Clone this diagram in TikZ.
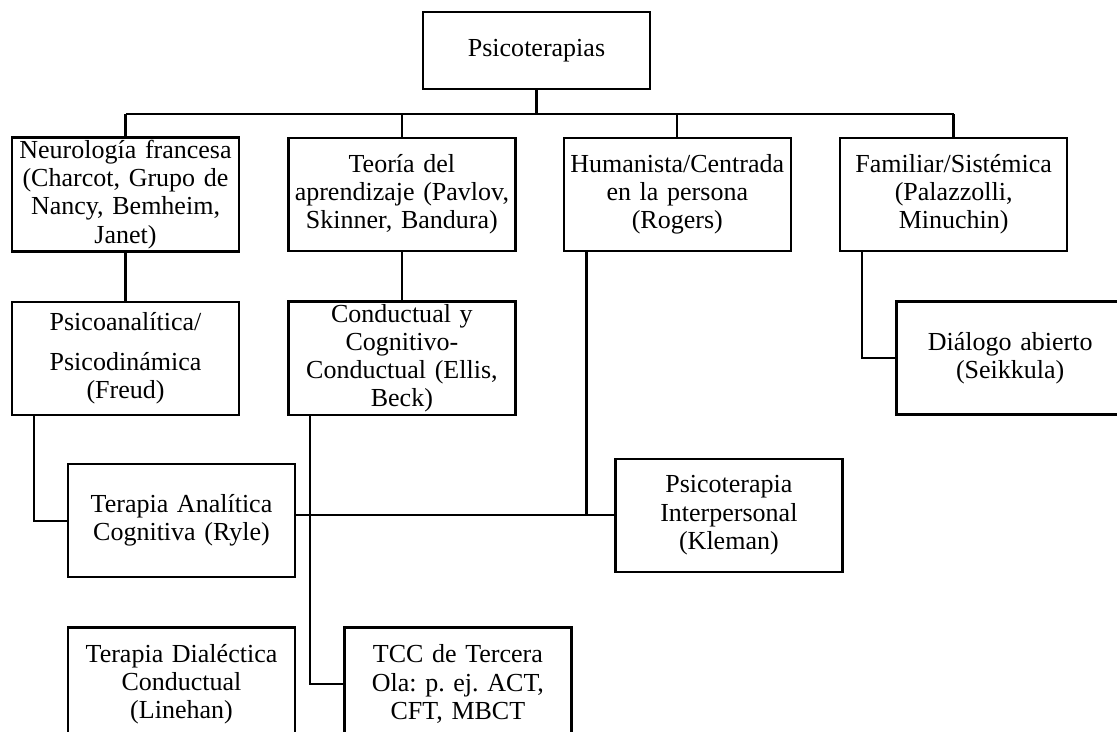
\documentclass[tikz,border=0pt]{standalone}
\usepackage{fontspec}
\setmainfont{Liberation Serif}
\frenchspacing
\usepackage{tikz}
\usetikzlibrary{positioning, calc}
\tikzstyle{box} = [rectangle, draw, line width=1.7pt, text centered, align=center, text width=5.4cm, minimum width=5.675cm, minimum height=2.825cm, inner sep=2pt, font=\fontsize{18.5pt}{20pt}\selectfont]
\tikzstyle{link} = [line width=1.7pt, black]

\begin{document}
\begin{tikzpicture}

	\useasboundingbox (0,0) rectangle (27.925,-18.275);

	% Root
	\node (root) [box, minimum height=1.925cm] at (13.4125,-1.2625) {Psicoterapias};

	% First level
	\node (neu) [box] at (3.1375,-4.8625) {Neurología francesa\\(Charcot, Grupo de\\Nancy, Bemheim,\\Janet)};
	\node (teo) [box, right=1.175cm of neu] {Teoría del\\aprendizaje (Pavlov,\\Skinner, Bandura)};
	\node (hum) [box, right=1.15cm of teo] {Humanista/Centrada\\en la persona\\(Rogers)};
	\node (fam) [box, right=1.175cm of hum] {Familiar/Sistémica\\(Palazzolli,\\Minuchin)};

	% Second level
	\node (psa) [box, below=1.2cm of neu] {Psicoanalítica/\\[8pt]Psicodinámica\\(Freud)};
	\node (cond) [box, below=1.2cm of teo] {Conductual y\\Cognitivo-\\Conductual (Ellis,\\Beck)};
	\node (dia) [box, below=1.2cm of fam, xshift=1.4125cm] {Diálogo abierto\\(Seikkula)};

	% Third level
	\node (tac) [box, below=1.175cm of psa, xshift=1.4cm] {Terapia Analítica\\Cognitiva (Ryle)};
	\node (ipt) [box, right=7.95cm of tac, yshift=0.1375cm] {Psicoterapia\\Interpersonal\\(Kleman)};

	% Fourth level
	\node (dbt) [box, below=1.2cm of tac] {Terapia Dialéctica\\Conductual\\(Linehan)};
	\node (tcc) [box, right=1.175cm of dbt] {TCC de Tercera\\Ola: p. ej. ACT,\\CFT, MBCT};

	% Links - root
	\coordinate (bus) at ($(root.south)+(0,-0.6)$);
	\draw[link] (root.south) -- (bus);
	\draw[link] (neu.north |- bus) -- (fam.north |- bus);
	\foreach \n in {neu,teo,hum,fam}
		\draw[link] (\n.north |- bus) -- (\n.north);

	% Links - down
	\draw[link] (neu.south) -- (psa.north);
	\draw[link] (teo.south) -- (cond.north);
	\draw[link] ($(psa.south west)+(0.575,0)$) |- (tac.west);
	\draw[link] ($(cond.south west)+(0.575,0)$) |- (tcc.west);
	\draw[link] ($(fam.south west)+(0.575,0)$) |- (dia.west);
	\draw[link] ($(hum.south west)+(0.6,0)$) |- (ipt.west);
	\draw[link] (tac.east |- ipt.west) -- (ipt.west);

\end{tikzpicture}
\end{document}
